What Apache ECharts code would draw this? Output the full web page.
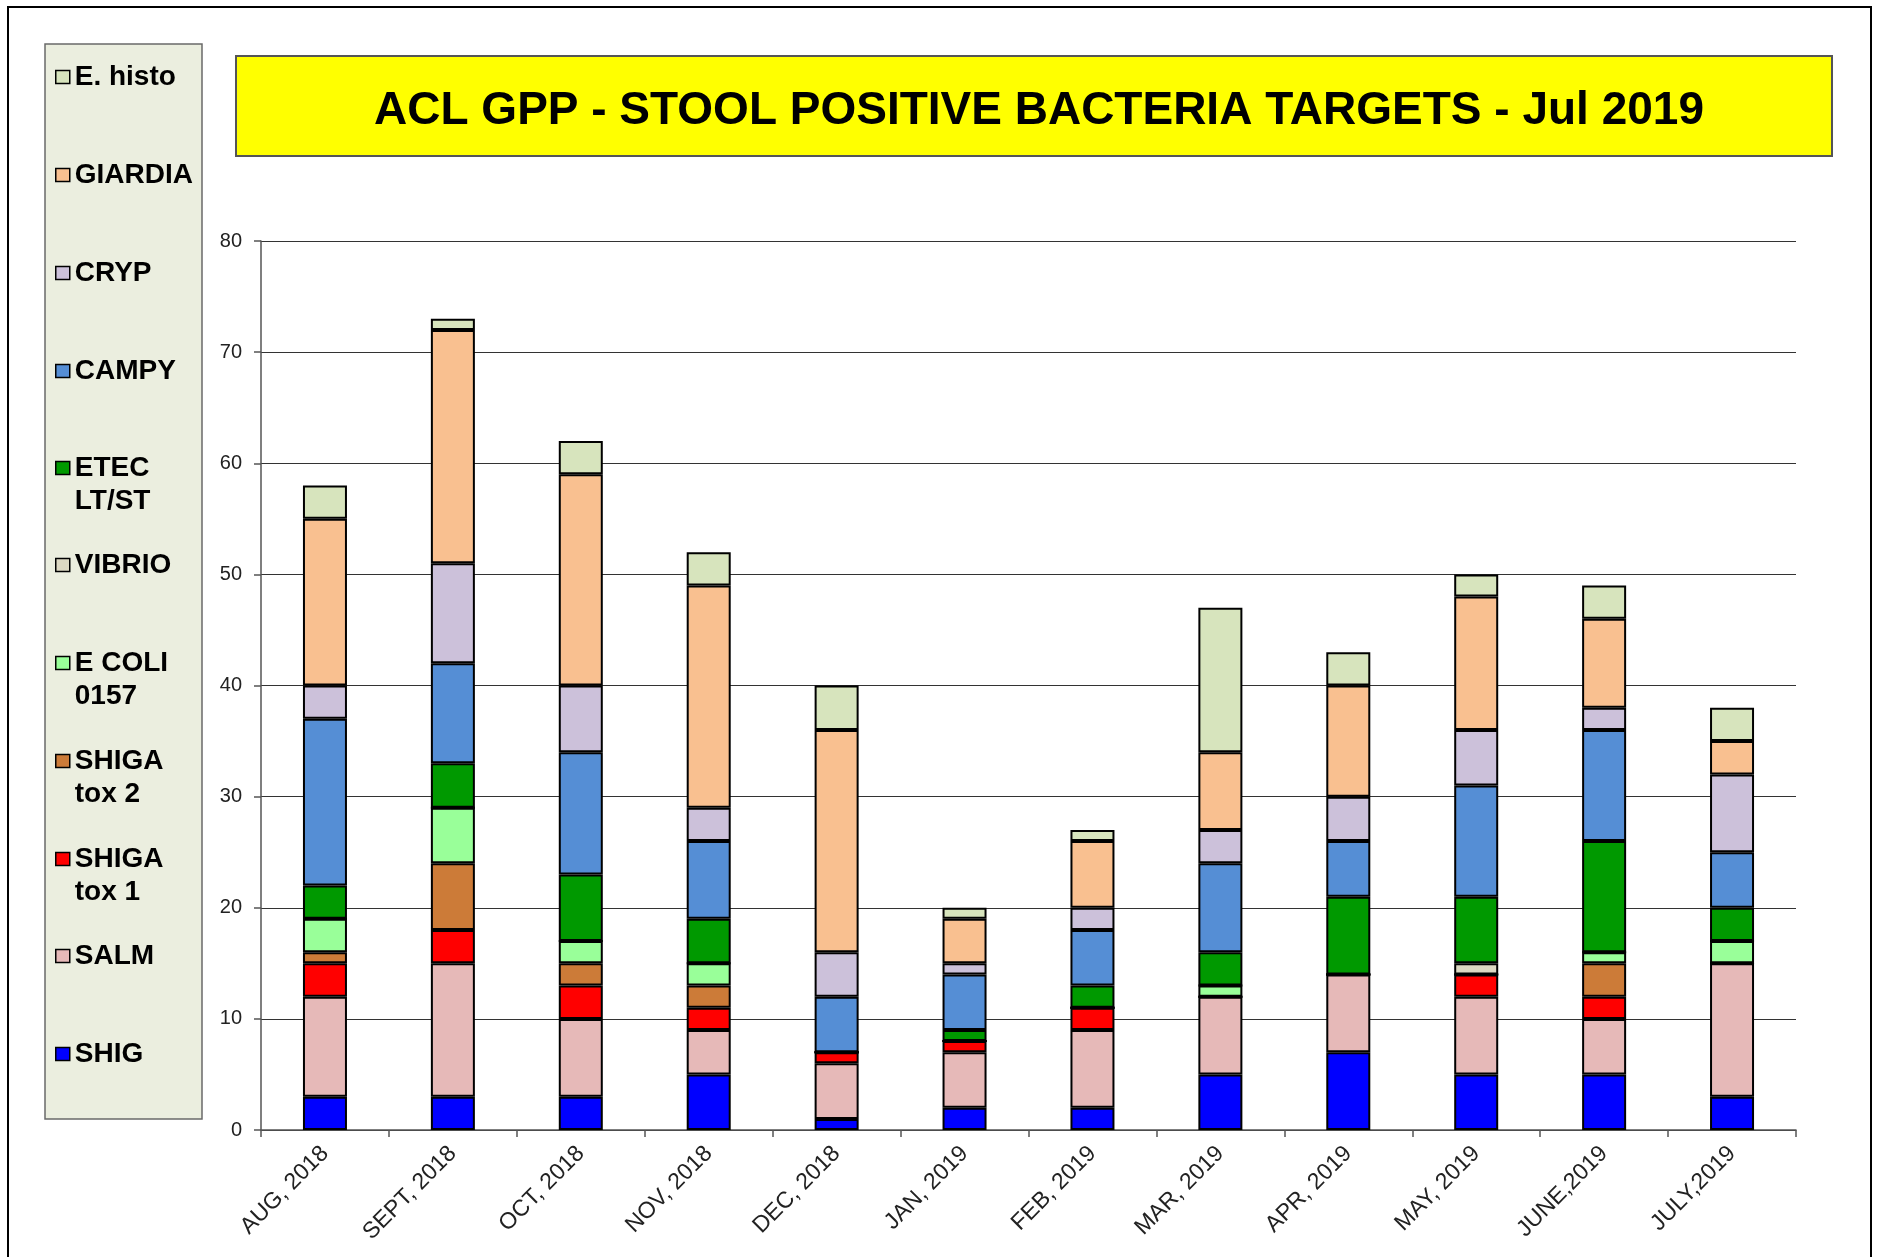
<!DOCTYPE html>
<html>
<head>
<meta charset="utf-8">
<script src="https://cdn.jsdelivr.net/npm/echarts@6/dist/echarts.min.js"></script>
<style>
  html, body { margin: 0; padding: 0; background: #fff; }
  #main { width: 1877px; height: 1257px; }
</style>
</head>
<body>
<div id="main"></div>
<script>
// months on the x axis
var months = ['AUG, 2018', 'SEPT, 2018', 'OCT, 2018', 'NOV, 2018', 'DEC, 2018', 'JAN, 2019',
  'FEB, 2019', 'MAR, 2019', 'APR, 2019', 'MAY, 2019', 'JUNE,2019', 'JULY,2019'];

// counts per target, bottom of the stack first
var shig     = [3, 3, 3, 5, 1, 2, 2, 5, 7, 5, 5, 3];
var salm     = [9, 12, 7, 4, 5, 5, 7, 7, 7, 7, 5, 12];
var shigaTox1 = [3, 3, 3, 2, 1, 1, 2, 0, 0, 2, 2, 0];
var shigaTox2 = [1, 6, 2, 2, 0, 0, 0, 0, 0, 0, 3, 0];
var ecoli    = [3, 5, 2, 2, 0, 0, 0, 1, 0, 0, 1, 2];
var vibrio   = [0, 0, 0, 0, 0, 0, 0, 0, 0, 1, 0, 0];
var etec     = [3, 4, 6, 4, 0, 1, 2, 3, 7, 6, 10, 3];
var campy    = [15, 9, 11, 7, 5, 5, 5, 8, 5, 10, 10, 5];
var cryp     = [3, 9, 6, 3, 4, 1, 2, 3, 4, 5, 2, 7];
var giardia  = [15, 21, 19, 20, 20, 4, 6, 7, 10, 12, 8, 3];
var ehisto   = [3, 1, 3, 3, 4, 1, 1, 13, 3, 2, 3, 3];

var yTicks = [0, 10, 20, 30, 40, 50, 60, 70, 80];

var names  = ['SHIG', 'SALM', 'SHIGA tox 1', 'SHIGA tox 2', 'E COLI 0157', 'VIBRIO',
  'ETEC LT/ST', 'CAMPY', 'CRYP', 'GIARDIA', 'E. histo'];
var labels = ['SHIG', 'SALM', 'SHIGA\ntox 1', 'SHIGA\ntox 2', 'E COLI\n0157', 'VIBRIO',
  'ETEC\nLT/ST', 'CAMPY', 'CRYP', 'GIARDIA', 'E. histo'];
var values = [shig, salm, shigaTox1, shigaTox2, ecoli, vibrio, etec, campy, cryp, giardia, ehisto];
var colors = ['#0000FF', '#E6B9B8', '#FF0000', '#CC7B38', '#99FF99', '#DDD9C3',
  '#009900', '#558ED5', '#CCC1DA', '#F9C090', '#D7E4BD'];

var FONT = '"Liberation Sans", Arial, sans-serif';
var LH = 33;

var series = names.map(function (n, i) {
  return {
    name: n,
    type: 'bar',
    stack: 'total',
    barWidth: 44,
    data: values[i],
    itemStyle: { color: colors[i], borderColor: '#000', borderWidth: 2 }
  };
});

// one legend per entry so the rows sit at the same pitch as the original
var legendCenters = [1054, 956, 859, 761, 663, 565, 468, 371, 273, 175, 77];
var legends = names.map(function (n, i) {
  var two = labels[i].indexOf('\n') >= 0;
  var c = legendCenters[i];
  // an empty first line keeps the swatch level with the first line of text
  var txt = two ? '\n' + labels[i] : labels[i];
  return {
    data: [n],
    left: 55,
    top: two ? c - 1.5 * LH : c - 0.5 * LH,
    padding: 0,
    itemWidth: 14,
    itemHeight: 13,
    icon: 'rect',
    selectedMode: false,
    itemStyle: { borderColor: '#000', borderWidth: 1.5 },
    formatter: function () { return txt; },
    textStyle: {
      fontFamily: FONT, fontWeight: 'bold', fontSize: 28, color: '#000', lineHeight: LH
    }
  };
});

var chart = echarts.init(document.getElementById('main'));
chart.setOption({
  animation: false,
  backgroundColor: '#fff',
  title: {
    text: 'ACL GPP - STOOL POSITIVE BACTERIA TARGETS - Jul 2019',
    left: 1034,
    top: 106,
    textAlign: 'center',
    textVerticalAlign: 'middle',
    textStyle: { fontFamily: FONT, fontWeight: 'bold', fontSize: 46, color: '#000' }
  },
  graphic: [
    { type: 'rect', z: -10, shape: { x: 8, y: 7, width: 1863, height: 1300 },
      style: { fill: '#fff', stroke: '#000', lineWidth: 2 } },
    { type: 'rect', z: -5, shape: { x: 236, y: 56, width: 1596, height: 100 },
      style: { fill: '#FFFF00', stroke: '#555', lineWidth: 2 } },
    { type: 'rect', z: -5, shape: { x: 45, y: 44, width: 157, height: 1075 },
      style: { fill: '#EBEEDF', stroke: '#6a6a6a', lineWidth: 1.5 } }
  ],
  legend: legends,
  grid: { left: 261, right: 81, top: 241, bottom: 127 },
  xAxis: {
    type: 'category',
    data: months,
    axisLine: { lineStyle: { color: '#555', width: 1.5 } },
    axisTick: { show: true, interval: 0, length: 7, lineStyle: { color: '#555', width: 1.5 } },
    axisLabel: {
      interval: 0, rotate: 45, margin: 20,
      fontFamily: FONT, fontSize: 23, color: '#222'
    }
  },
  yAxis: {
    type: 'value',
    min: yTicks[0],
    max: yTicks[yTicks.length - 1],
    interval: 10,
    axisLine: { show: true, lineStyle: { color: '#555', width: 1.5 } },
    axisTick: { show: true, length: 7, lineStyle: { color: '#555', width: 1.5 } },
    axisLabel: { margin: 19, fontFamily: FONT, fontSize: 20, color: '#222' },
    splitLine: { lineStyle: { color: '#333', width: 1.2 } }
  },
  series: series
});
</script>
</body>
</html>
